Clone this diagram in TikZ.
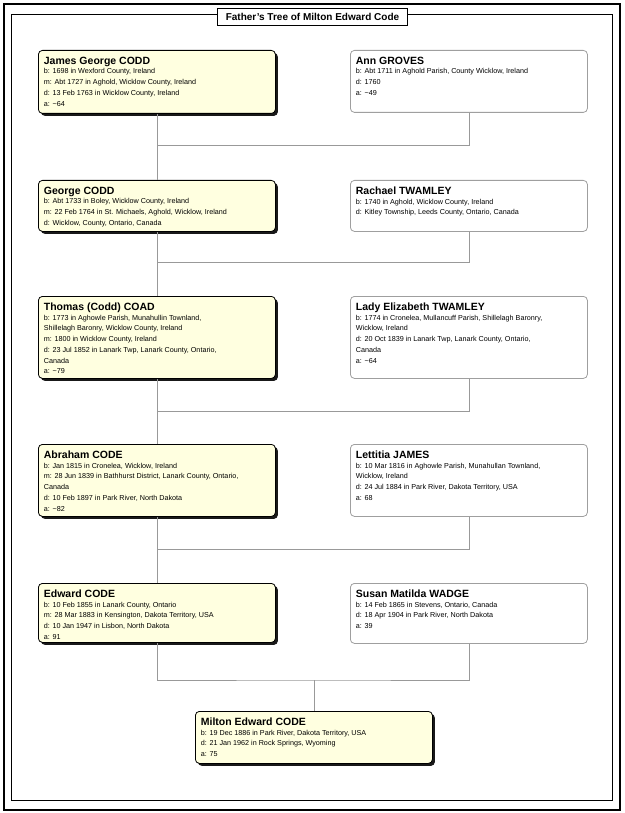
\documentclass[tikz,border=0pt]{standalone}
\usepackage{fontspec}
\setmainfont{Liberation Sans}
\usepackage{tikz}
\usepackage{xcolor}
\usetikzlibrary{shadows}

\definecolor{boxyellow}{RGB}{255,255,224}
\newcommand{\namefont}{\fontsize{10.5}{12}\selectfont\bfseries}
\newcommand{\detfont}{\fontsize{7.2}{10.7}\selectfont}
\newcommand{\persontext}[3]{\parbox[t][#1][t]{226pt}{\vspace*{3.5pt}\raggedright{\namefont #2\par}\vskip-1pt{\detfont #3\par}}}

\begin{document}
\begin{tikzpicture}[x=1pt, y=-1pt,
    person/.style={rectangle, rounded corners=4pt, anchor=north west, inner xsep=5.5pt, inner ysep=3pt, line width=0.8pt},
    line/.style={person, draw=black, fill=boxyellow, drop shadow={shadow xshift=2.5pt, shadow yshift=-2.5pt, fill=black, opacity=0.9}},
    spouse/.style={person, draw=gray!75, fill=white},
    link/.style={draw=gray!80, line width=0.7pt}]

    \useasboundingbox (0,0) rectangle (624,813);

    % frame and title
    \draw[line width=2.5pt] (4,4) rectangle (620,810);
    \draw[line width=1pt] (11,15) rectangle (612,800);
    \node[draw, fill=white, line width=1pt, minimum width=190pt, minimum height=17pt, font=\fontsize{10}{12}\selectfont\bfseries] (title) at (312.5,17) {Father's Tree of Milton Edward Code};

    % generation 1
    \node[line] (jgc) at (38,50) {\persontext{57pt}{James George CODD}{b: 1698 in Wexford County, Ireland\\ m: Abt 1727 in Aghold, Wicklow County, Ireland\\ d: 13 Feb 1763 in Wicklow County, Ireland\\ a: \textasciitilde64}};
    \node[spouse] (ag) at (350,50) {\persontext{56pt}{Ann GROVES}{b: Abt 1711 in Aghold Parish, County Wicklow, Ireland\\ d: 1760\\ a: \textasciitilde49}};

    % generation 2
    \node[line] (gc) at (38,180) {\persontext{45pt}{George CODD}{b: Abt 1733 in Boley, Wicklow County, Ireland\\ m: 22 Feb 1764 in St. Michaels, Aghold, Wicklow, Ireland\\ d: Wicklow, County, Ontario, Canada}};
    \node[spouse] (rt) at (350,180) {\persontext{45pt}{Rachael TWAMLEY}{b: 1740 in Aghold, Wicklow County, Ireland\\ d: Kitley Township, Leeds County, Ontario, Canada}};

    % generation 3
    \node[line] (tcc) at (38,296) {\persontext{76pt}{Thomas (Codd) COAD}{b: 1773 in Aghowle Parish, Munahullin Townland,\\ Shillelagh Baronry, Wicklow County, Ireland\\ m: 1800 in Wicklow County, Ireland\\ d: 23 Jul 1852 in Lanark Twp, Lanark County, Ontario,\\ Canada\\ a: \textasciitilde79}};
    \node[spouse] (let) at (350,296) {\persontext{76pt}{Lady Elizabeth TWAMLEY}{b: 1774 in Cronelea, Mullancuff Parish, Shillelagh Baronry,\\ Wicklow, Ireland\\ d: 20 Oct 1839 in Lanark Twp, Lanark County, Ontario,\\ Canada\\ a: \textasciitilde64}};

    % generation 4
    \node[line] (ac) at (38,444) {\persontext{66pt}{Abraham CODE}{b: Jan 1815 in Cronelea, Wicklow, Ireland\\ m: 28 Jun 1839 in Bathhurst District, Lanark County, Ontario,\\ Canada\\ d: 10 Feb 1897 in Park River, North Dakota\\ a: \textasciitilde82}};
    \node[spouse] (lj) at (350,444) {\persontext{66pt}{Lettitia JAMES}{b: 10 Mar 1816 in Aghowle Parish, Munahullan Townland,\\ Wicklow, Ireland\\ d: 24 Jul 1884 in Park River, Dakota Territory, USA\\ a: 68}};

    % generation 5
    \node[line] (ec) at (38,583) {\persontext{53pt}{Edward CODE}{b: 10 Feb 1855 in Lanark County, Ontario\\ m: 28 Mar 1883 in Kensington, Dakota Territory, USA\\ d: 10 Jan 1947 in Lisbon, North Dakota\\ a: 91}};
    \node[spouse] (smw) at (350,583) {\persontext{54pt}{Susan Matilda WADGE}{b: 14 Feb 1865 in Stevens, Ontario, Canada\\ d: 18 Apr 1904 in Park River, North Dakota\\ a: 39}};

    % root
    \node[line] (mec) at (195,711) {\persontext{46pt}{Milton Edward CODE}{b: 19 Dec 1886 in Park River, Dakota Territory, USA\\ d: 21 Jan 1962 in Rock Springs, Wyoming\\ a: 75}};

    % junctions
    \coordinate (m1) at (jgc.south |- 0,145);
    \coordinate (m2) at (gc.south |- 0,262);
    \coordinate (m3) at (tcc.south |- 0,411);
    \coordinate (m4) at (ac.south |- 0,549);
    \coordinate (m5) at (mec.north |- 0,680);

    \draw[link] (jgc.south) -- (gc.north);
    \draw[link] (ag.south) |- (m1);
    \draw[link] (gc.south) -- (tcc.north);
    \draw[link] (rt.south) |- (m2);
    \draw[link] (tcc.south) -- (ac.north);
    \draw[link] (let.south) |- (m3);
    \draw[link] (ac.south) -- (ec.north);
    \draw[link] (lj.south) |- (m4);
    \draw[link] (ec.south) |- (m5) -| (smw.south);
    \draw[link] (m5) -- (mec.north);
\end{tikzpicture}
\end{document}
